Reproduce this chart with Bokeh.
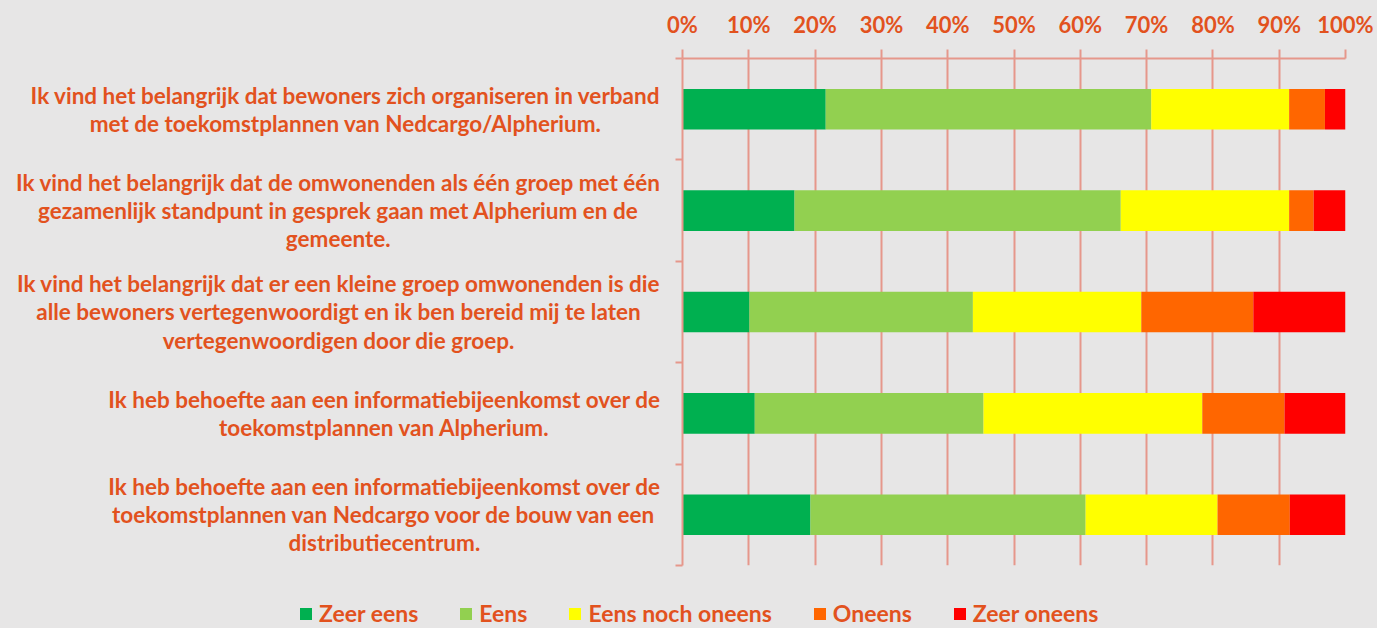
from bokeh.plotting import figure
from bokeh.layouts import row, column
from bokeh.models import (Range1d, FixedTicker, LinearAxis, PrintfTickFormatter,
                          ColumnDataSource)
from bokeh.core.properties import value
from bokeh.embed import file_html
from bokeh.resources import INLINE

# ---------------- data ----------------
statements = [
    "Ik vind het belangrijk dat bewoners zich organiseren in verband\nmet de toekomstplannen van Nedcargo/Alpherium.",
    "Ik vind het belangrijk dat de omwonenden als één groep met één\ngezamenlijk standpunt in gesprek gaan met Alpherium en de\ngemeente.",
    "Ik vind het belangrijk dat er een kleine groep omwonenden is die\nalle bewoners vertegenwoordigt en ik ben bereid mij te laten\nvertegenwoordigen door die groep.",
    "Ik heb behoefte aan een informatiebijeenkomst over de\ntoekomstplannen van Alpherium.",
    "Ik heb behoefte aan een informatiebijeenkomst over de\ntoekomstplannen van Nedcargo voor de bouw van een\ndistributiecentrum.",
]
series_names = ["Zeer eens", "Eens", "Eens noch oneens", "Oneens", "Zeer oneens"]
zeer_eens = [21.6, 16.9, 10.1, 10.9, 19.3]
eens = [49.1, 49.2, 33.7, 34.5, 41.5]
neutraal = [20.8, 25.4, 25.4, 33.0, 19.9]
oneens = [5.4, 3.7, 16.9, 12.4, 10.9]
zeer_oneens = [3.1, 4.8, 13.9, 9.2, 8.4]
x_ticks = [0, 10, 20, 30, 40, 50, 60, 70, 80, 90, 100]

# ---------------- style ----------------
BG = "#E7E6E6"
TXT = "#E2521E"
GRID = "#E6978B"
COLORS = ["#00B050", "#92D050", "#FFFF00", "#FF6600", "#FF0000"]
FONT = "Lato"

n = len(statements)
ypos = [i + 0.5 for i in range(n)]
keys = ["s0", "s1", "s2", "s3", "s4"]
src = ColumnDataSource(dict(y=ypos, label=statements, s0=zeer_eens, s1=eens,
                            s2=neutraal, s3=oneens, s4=zeer_oneens))
y_range = Range1d(n, 0)


def style(fig):
    fig.background_fill_color = BG
    fig.border_fill_color = BG
    fig.outline_line_color = None


# ---------- left: category labels ----------
left = figure(width=660, height=590, output_backend="svg", toolbar_location=None,
              x_range=Range1d(0, 1), y_range=y_range, x_axis_type=None, y_axis_type=None,
              min_border_left=0, min_border_right=0, min_border_top=58, min_border_bottom=25)
style(left)
left.xgrid.visible = False
left.ygrid.visible = False
left.text(x=1, y="y", text="label", source=src, anchor="center_right",
          text_align="center", text_baseline="middle", text_font=value(FONT),
          text_font_style="bold", text_font_size="22.5px", text_color=TXT,
          text_line_height=1.04)

# ---------- right: bars ----------
p = figure(width=717, height=590, output_backend="svg", toolbar_location=None,
           x_range=Range1d(0, 100), y_range=y_range,
           x_axis_location="above", y_axis_type=None,
           min_border_left=22, min_border_right=32, min_border_top=58, min_border_bottom=25)
style(p)

p.hbar_stack(keys, y="y", height=0.4, color=COLORS, source=src, line_color=None)

xa = p.xaxis[0]
xa.ticker = FixedTicker(ticks=x_ticks)
xa.formatter = PrintfTickFormatter(format="%d%%")
xa.axis_line_color = GRID
xa.axis_line_width = 2
xa.major_tick_line_color = GRID
xa.major_tick_line_width = 2
xa.major_tick_out = 9
xa.major_tick_in = 0
xa.minor_tick_line_color = None
xa.major_label_standoff = 12
xa.major_label_text_font = FONT
xa.major_label_text_font_style = "bold"
xa.major_label_text_font_size = "22px"
xa.major_label_text_color = TXT

p.xgrid.ticker = FixedTicker(ticks=x_ticks)
p.xgrid.grid_line_color = GRID
p.xgrid.grid_line_width = 2
p.ygrid.grid_line_color = None

ya = LinearAxis(ticker=FixedTicker(ticks=[], minor_ticks=list(range(n + 1))))
ya.axis_line_color = GRID
ya.axis_line_width = 2
ya.major_tick_line_color = None
ya.minor_tick_line_color = GRID
ya.minor_tick_line_width = 2
ya.minor_tick_out = 7
ya.minor_tick_in = 0
ya.major_label_text_font_size = "0px"
ya.major_label_standoff = 0
p.add_layout(ya, "left")

# ---------- bottom: legend strip (bars fall outside its view; only the legend shows) ----------
leg = figure(width=1377, height=38, output_backend="svg", toolbar_location=None,
             x_range=Range1d(0, 100), y_range=Range1d(n + 10, n + 11),
             x_axis_type=None, y_axis_type=None, min_border=0)
style(leg)
leg.xgrid.visible = False
leg.ygrid.visible = False
leg.hbar_stack(keys, y="y", height=0.4, color=COLORS, source=src, line_color=None,
               legend_label=series_names)
lg = leg.legend[0]
lg.orientation = "horizontal"
lg.location = (298, 1)
lg.background_fill_alpha = 0
lg.border_line_color = None
lg.padding = 0
lg.margin = 0
lg.spacing = 40
lg.glyph_width = 15
lg.glyph_height = 15
lg.label_standoff = 6
lg.label_text_font = FONT
lg.label_text_font_style = "bold"
lg.label_text_font_size = "23px"
lg.label_text_color = TXT
lg.label_text_baseline = "middle"

layout = column(row(left, p), leg, styles={"background-color": BG})
open("out.html", "w").write(file_html(layout, INLINE))
